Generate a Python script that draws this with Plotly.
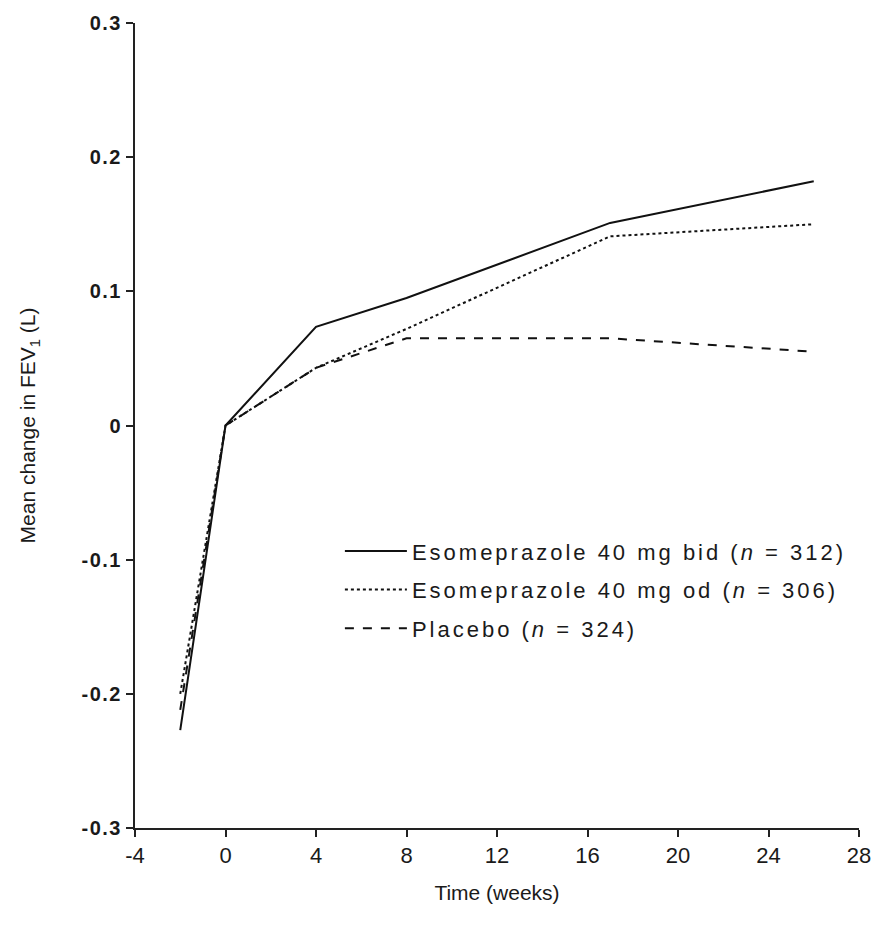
import plotly.graph_objects as go

weeks = [-2, 0, 4, 8, 17, 26]
bid = [-0.227, 0.0, 0.0735, 0.095, 0.151, 0.182]
od = [-0.200, 0.0, 0.043, 0.072, 0.141, 0.150]
placebo = [-0.212, 0.0, 0.043, 0.065, 0.065, 0.055]

names = [
    "Esomeprazole 40 mg bid (<i>n</i> = 312)",
    "Esomeprazole 40 mg od (<i>n</i> = 306)",
    "Placebo (<i>n</i> = 324)",
]
dashes = ["solid", "dot", "dash"]
series = [bid, od, placebo]

x_ticks = [-4, 0, 4, 8, 12, 16, 20, 24, 28]
y_ticks = [-0.3, -0.2, -0.1, 0, 0.1, 0.2, 0.3]
y_labels = ["-0.3", "-0.2", "-0.1", "0", "0.1", "0.2", "0.3"]

fig = go.Figure()
for i, (nm, ys, d) in enumerate(zip(names, series, dashes)):
    fig.add_trace(go.Scatter(
        x=weeks, y=ys, mode="lines", legendgroup=str(i),
        name='<span style="letter-spacing:3px">' + nm + "</span>",
        line=dict(color="#111111", width=2, dash=d),
    ))

font = "Liberation Sans, Arial, sans-serif"
fig.update_layout(
    width=883, height=930,
    margin=dict(l=135, r=21, t=20, b=102),
    paper_bgcolor="white", plot_bgcolor="white",
    showlegend=True,
    legend=dict(
        x=0.283, y=0.37, xanchor="left", yanchor="top",
        font=dict(family=font, size=22, color="#1a1a1a"),
        bgcolor="rgba(0,0,0,0)", tracegroupgap=7,
        itemwidth=62,
    ),
    xaxis=dict(
        range=[-4, 28], tickvals=x_ticks, ticktext=[str(t) for t in x_ticks],
        showgrid=False, zeroline=False, showline=True, linecolor="#222222", linewidth=2,
        ticks="outside", ticklen=7, tickwidth=2, tickcolor="#222222",
        tickfont=dict(family=font, size=22, color="#1a1a1a"),
        title=dict(text="Time (weeks)", font=dict(family=font, size=21, color="#1a1a1a"), standoff=18),
    ),
    yaxis=dict(
        range=[-0.3, 0.3], tickvals=y_ticks,
        ticktext=['<span style="letter-spacing:1.5px"><b>' + t + "</b></span>" for t in y_labels],
        showgrid=False, zeroline=False, showline=True, linecolor="#222222", linewidth=2,
        ticks="outside", ticklen=7, tickwidth=2, tickcolor="#222222",
        tickfont=dict(family=font, size=20, color="#1a1a1a"),
        title=dict(text="Mean change in FEV<sub>1</sub> (L)", font=dict(family=font, size=21, color="#1a1a1a"), standoff=40),
    ),
)

fig.write_html("out.html")
